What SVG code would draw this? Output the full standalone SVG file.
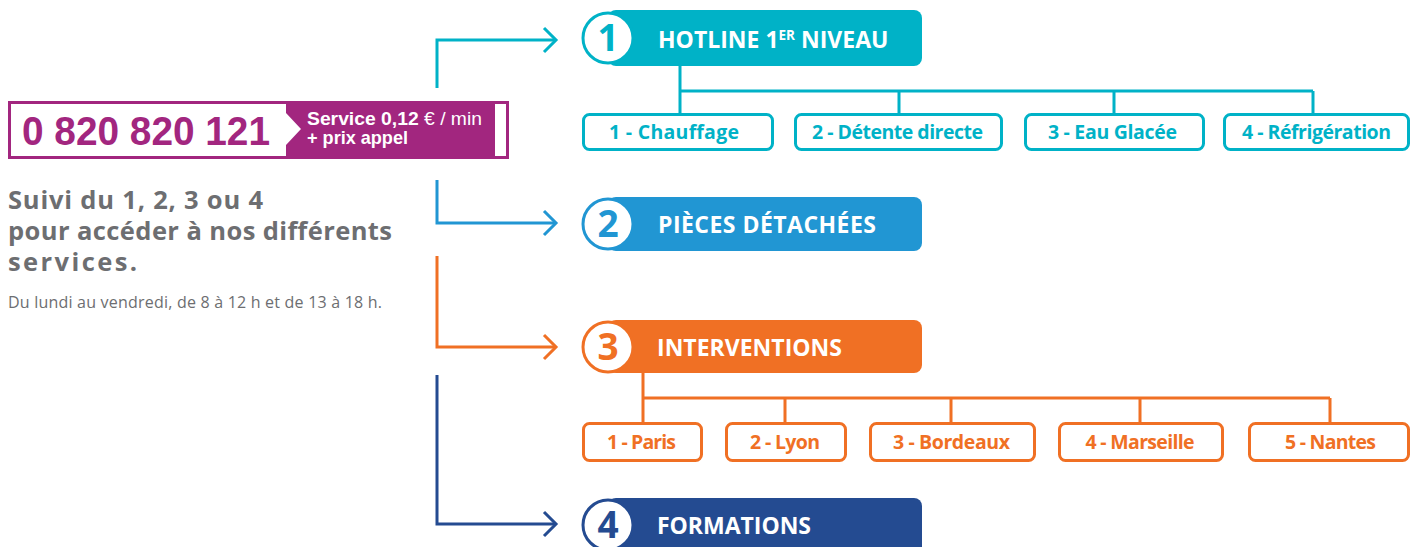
<svg xmlns="http://www.w3.org/2000/svg" width="1411" height="547" viewBox="0 0 1411 547">
<defs>
<style>
.t{font-family:"Open Sans","Noto Sans",sans-serif;font-weight:700}
.title{font-size:23px;fill:#fff}
.num{font-size:37px;font-weight:700;text-anchor:middle}
.lbl{font-size:19.5px;text-anchor:middle}
.box{fill:#fff;stroke-width:3}
.ln{fill:none;stroke-width:3}
.teal{stroke:#00b2c7}
.blue{stroke:#2196d3}
.orange{stroke:#f07024}
.navy{stroke:#244b91}
.gray{fill:#6d6e71}
</style>
<marker id="mTeal" viewBox="-15 -15 18 30" refX="0" refY="0" markerWidth="18" markerHeight="30" markerUnits="userSpaceOnUse" orient="auto"><path d="M-12,-12 L0,0 L-12,12" fill="none" stroke="#00b2c7" stroke-width="3"/></marker>
<marker id="mBlue" viewBox="-15 -15 18 30" refX="0" refY="0" markerWidth="18" markerHeight="30" markerUnits="userSpaceOnUse" orient="auto"><path d="M-12,-12 L0,0 L-12,12" fill="none" stroke="#2196d3" stroke-width="3"/></marker>
<marker id="mOrange" viewBox="-15 -15 18 30" refX="0" refY="0" markerWidth="18" markerHeight="30" markerUnits="userSpaceOnUse" orient="auto"><path d="M-12,-12 L0,0 L-12,12" fill="none" stroke="#f07024" stroke-width="3"/></marker>
<marker id="mNavy" viewBox="-15 -15 18 30" refX="0" refY="0" markerWidth="18" markerHeight="30" markerUnits="userSpaceOnUse" orient="auto"><path d="M-12,-12 L0,0 L-12,12" fill="none" stroke="#244b91" stroke-width="3"/></marker>
</defs>
<rect width="1411" height="547" fill="#fff"/>

<g id="phone">
<rect x="9.5" y="102.5" width="498" height="55" fill="#fff" stroke="#a2267f" stroke-width="3"/>
<polygon points="286,102 495,102 495,158 286,158 286,145 301,129 286,113" fill="#a2267f"/>
<text x="22" y="145" font-family="Liberation Sans, Arial, sans-serif" font-weight="700" font-size="41" fill="#a2267f" textLength="248" lengthAdjust="spacingAndGlyphs">0 820 820 121</text>
<text x="307" y="125" font-family="Liberation Sans, Arial, sans-serif" font-weight="700" font-size="19" fill="#fff" textLength="175" lengthAdjust="spacingAndGlyphs">Service 0,12 <tspan font-weight="400">€ / min</tspan></text>
<text x="307" y="144" font-family="Liberation Sans, Arial, sans-serif" font-weight="700" font-size="19" fill="#fff" textLength="101" lengthAdjust="spacingAndGlyphs">+ prix appel</text>
</g>

<g id="intro">
<text class="t gray" x="8" y="209" font-size="25.5" textLength="255" lengthAdjust="spacing">Suivi du 1, 2, 3 ou 4</text>
<text class="t gray" x="8" y="240" font-size="25.5" textLength="384" lengthAdjust="spacing">pour accéder à nos différents</text>
<text class="t gray" x="8" y="271" font-size="25.5" textLength="129" lengthAdjust="spacing">services.</text>
<text x="8" y="308" font-family="Open Sans, Noto Sans, sans-serif" font-size="16" class="gray" textLength="374" lengthAdjust="spacing">Du lundi au vendredi, de 8 à 12 h et de 13 à 18 h.</text>
</g>

<g id="connectors">
<path class="ln teal" d="M437,88 V40 H556" marker-end="url(#mTeal)"/>
<path class="ln blue" d="M437,180 V223 H556" marker-end="url(#mBlue)"/>
<path class="ln orange" d="M437,256 V347 H556" marker-end="url(#mOrange)"/>
<path class="ln navy" d="M437,375 V524 H556" marker-end="url(#mNavy)"/>
<path class="ln teal" d="M680,66 V113 M680,91 H1313 M899,91 V113 M1114,91 V113 M1313,91 V113"/>
<path class="ln orange" d="M643,373 V422 M643,398 H1330 M785,398 V422 M951,398 V422 M1140,398 V422 M1330,398 V422"/>
</g>

<g id="h1">
<rect x="608" y="10" width="314" height="56" rx="8" fill="#00b2c7"/>
<circle cx="608" cy="38" r="25" fill="#fff" stroke="#00b2c7" stroke-width="3"/>
<text class="t num" x="608" y="51" fill="#00b2c7">1</text>
<text class="t title" x="658" y="48">HOTLINE 1<tspan font-size="13.5" dy="-8.5">ER</tspan><tspan dy="8.5"> NIVEAU</tspan></text>
</g>
<g id="h2">
<rect x="608" y="197" width="314" height="54" rx="8" fill="#2196d3"/>
<circle cx="608" cy="224" r="25" fill="#fff" stroke="#2196d3" stroke-width="3"/>
<text class="t num" x="608" y="237" fill="#2196d3">2</text>
<text class="t title" x="658" y="233" textLength="218" lengthAdjust="spacing">PIÈCES DÉTACHÉES</text>
</g>
<g id="h3">
<rect x="608" y="320" width="314" height="53" rx="8" fill="#f07024"/>
<circle cx="608" cy="347" r="25" fill="#fff" stroke="#f07024" stroke-width="3"/>
<text class="t num" x="608" y="360" fill="#f07024">3</text>
<text class="t title" x="657" y="356" textLength="185" lengthAdjust="spacing">INTERVENTIONS</text>
</g>
<g id="h4">
<rect x="608" y="498" width="314" height="60" rx="8" fill="#244b91"/>
<circle cx="608" cy="525" r="25" fill="#fff" stroke="#244b91" stroke-width="3"/>
<text class="t num" x="608" y="538" fill="#244b91">4</text>
<text class="t title" x="657" y="534" textLength="154" lengthAdjust="spacing">FORMATIONS</text>
</g>

<g id="c1-1"><rect class="box teal" x="583.5" y="114.5" width="189" height="35" rx="6"/><text class="t lbl" x="674" y="139" fill="#00b2c7" textLength="130" lengthAdjust="spacing">1 - Chauffage</text></g>
<g id="c1-2"><rect class="box teal" x="795.5" y="114.5" width="206" height="35" rx="6"/><text class="t lbl" x="897.5" y="139" fill="#00b2c7" textLength="171" lengthAdjust="spacing">2 - Détente directe</text></g>
<g id="c1-3"><rect class="box teal" x="1025.5" y="114.5" width="178" height="35" rx="6"/><text class="t lbl" x="1112.5" y="139" fill="#00b2c7" textLength="129" lengthAdjust="spacing">3 - Eau Glacée</text></g>
<g id="c1-4"><rect class="box teal" x="1224.5" y="114.5" width="184" height="35" rx="6"/><text class="t lbl" x="1316.5" y="139" fill="#00b2c7" textLength="149" lengthAdjust="spacing">4 - Réfrigération</text></g>

<g id="c3-1"><rect class="box orange" x="583.5" y="423.5" width="118" height="37" rx="6"/><text class="t lbl" x="641.5" y="449" fill="#f07024" textLength="69" lengthAdjust="spacing">1 - Paris</text></g>
<g id="c3-2"><rect class="box orange" x="726.5" y="423.5" width="119" height="37" rx="6"/><text class="t lbl" x="785" y="449" fill="#f07024" textLength="70" lengthAdjust="spacing">2 - Lyon</text></g>
<g id="c3-3"><rect class="box orange" x="870.5" y="423.5" width="164" height="37" rx="6"/><text class="t lbl" x="951.5" y="449" fill="#f07024" textLength="117" lengthAdjust="spacing">3 - Bordeaux</text></g>
<g id="c3-4"><rect class="box orange" x="1059.5" y="423.5" width="163" height="37" rx="6"/><text class="t lbl" x="1140" y="449" fill="#f07024" textLength="109" lengthAdjust="spacing">4 - Marseille</text></g>
<g id="c3-5"><rect class="box orange" x="1249.5" y="423.5" width="159" height="37" rx="6"/><text class="t lbl" x="1330.5" y="449" fill="#f07024" textLength="91" lengthAdjust="spacing">5 - Nantes</text></g>
</svg>
